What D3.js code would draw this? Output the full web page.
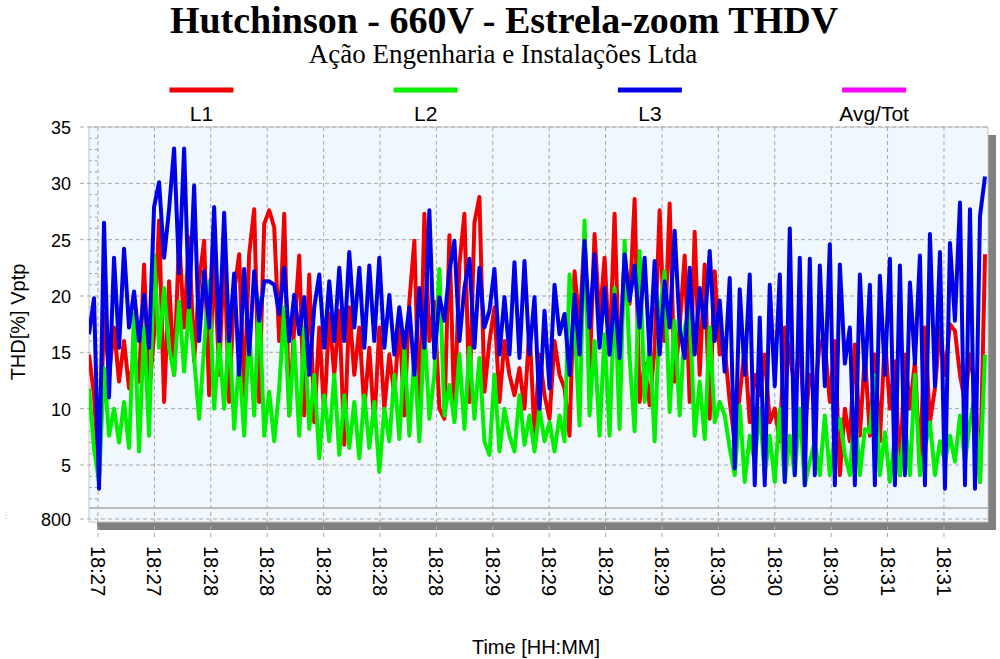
<!DOCTYPE html>
<html>
<head>
<meta charset="utf-8">
<script src="https://cdn.jsdelivr.net/npm/d3@7"></script>
<style>
body { margin: 0; background: #fff; }
svg { display: block; }
text { font-family: "Liberation Sans", Arial, sans-serif; fill: #000; }
.serif { font-family: "Liberation Serif", "Times New Roman", serif; }
</style>
</head>
<body>
<script>
var width = 1000;
var height = 659;

var seriesNames = ["L1", "L2", "L3", "Avg/Tot"];
var seriesColors = ["#f00000", "#00f000", "#0000e6", "#ff00ff"];

// THD values, one every ~5 px
var l1 = [14.8, 11.2, 3.8, 18.4, 13, 17.2, 12.4, 16, 11.8, 14.8, 12.4, 22.8, 11.2, 16.6, 26.7, 10.6, 21.3, 13, 25.2, 17.2, 25.2, 14.2, 21.3, 24.9, 11.2, 23.7, 13, 24, 10.6, 20.4, 23.7, 11.2, 23.7, 27.7, 10.6, 26.4,
  27.6, 26.1, 16, 27.3, 9.4, 17.2, 23.6, 9.4, 21.9, 8.8, 17.2, 9.4, 18.4, 13, 18.7, 6.8, 19, 13, 17.2, 10, 15.4, 8.5, 17.2, 10, 14.8, 11.2, 17.8, 9.4, 19.5, 24.9, 8.8, 27.3, 16, 19.5, 10, 9.1,
  25.4, 9.1, 22.8, 27.3, 10.6, 26.5, 28.8, 11.5, 16, 19, 10.6, 16, 13, 11.2, 13.6, 10, 17.2, 7.6, 14.8, 11.2, 9.1, 16, 13, 11.8, 7.6, 22.2, 17.2, 25.5, 13, 25.5, 17.8, 23.4, 14.8, 27.3, 12.4, 23.7,
  19.3, 28.6, 10.6, 14, 10.3, 15.4, 27.6, 16, 28.2, 12.4, 17.2, 23.6, 10.6, 25.7, 13, 22.8, 9.1, 22.2, 14.8, 15.4, 10.6, 7.1, 11.2, 15.4, 8.8, 13, 11.2, 14.8, 8.8, 10, 7.1, 17.2, 14.8, 11.8, 16, 8.2,
  13, 11.2, 16, 15.7, 10.6, 16, 4.1, 10, 7.1, 15.7, 7.6, 14.8, 7.6, 14.8, 7.1, 16.3, 10, 14.2, 4.1, 14.8, 10, 14.2, 4.7, 17.2, 8.8, 11.8, 17.2, 13, 17.5, 16.9, 13, 10.6, 14.8, 11.8, 3.5, 23.7];

var l2 = [11.8, 6.5, 3.5, 13.6, 7.6, 10, 7, 10.6, 6.5, 18.4, 6.2, 17.2, 7.6, 23.6, 15.4, 20.7, 15.4, 13, 19.5, 13.3, 19, 14.5, 9.1, 15.4, 21.3, 10, 16, 10, 17.2, 8.2, 14.5, 7.6, 17.2, 9.4, 19.8, 7.6,
  11.5, 7.1, 11.8, 19, 9.4, 16, 7.6, 17.2, 8.2, 13, 5.6, 11.2, 7.1, 13, 5.9, 11.2, 6.5, 10.6, 5.6, 11.2, 6.5, 10.6, 4.4, 10, 7.1, 13, 7.3, 15.4, 7.6, 14.8, 7.1, 17.2, 9.1, 13, 22.4, 9.4,
  12.1, 8.8, 14.8, 8.2, 15.4, 9.1, 14.5, 7.1, 5.9, 13, 6.2, 10, 7.6, 6.2, 11.2, 6.8, 9.4, 6.2, 10, 7.1, 8.8, 6.2, 9.4, 7.1, 21.9, 17.5, 8.5, 26.7, 9.4, 16, 7.6, 16.6, 7.6, 20.7, 8.2, 24.9,
  14.5, 8, 24, 10.6, 16, 7.1, 18.4, 22.2, 9.7, 17.8, 9.4, 17.2, 19, 7.6, 12.4, 7.3, 17.2, 8.8, 10.6, 9.4, 6.5, 4.1, 10.3, 3.5, 7.6, 5.3, 10, 4.1, 7.6, 3.5, 10, 3.5, 7.6, 4.1, 10, 3.2,
  5.3, 7.1, 4.1, 9.4, 4.1, 7.6, 9.1, 5.9, 4.1, 10, 4.1, 8.2, 7.9, 13, 4.1, 7.9, 3.5, 7.6, 4.1, 8.8, 4.1, 13, 4.1, 6.5, 8.8, 4.1, 7.1, 5.3, 7.6, 5.3, 9.4, 5.3, 8.8, 11.2, 3.5, 14.8];

var l3 = [16.6, 19.8, 2.9, 26.5, 11, 23.4, 15.4, 24.2, 17.2, 20.4, 16, 20.1, 15.4, 27.9, 30.1, 23.4, 27.7, 33.1, 22, 33.1, 19, 29.8, 16, 22.2, 17.2, 27.9, 16, 27.4, 16, 22, 13, 22.4, 14.8, 22.2, 17.8, 21.3,
  21.3, 21, 18.4, 22.5, 16, 20.1, 16.6, 19.9, 13, 19, 21.9, 15.4, 21.3, 16, 22.5, 16, 23.9, 17.2, 22.5, 15.4, 22.7, 16, 23.4, 15.4, 20.1, 14.8, 19, 15.4, 19, 13, 20.7, 15.4, 27.6, 14.5, 19.9, 17.8,
  22.2, 24.9, 16, 20.7, 23.3, 15.4, 22.5, 17.2, 18.7, 22.4, 14.8, 19.9, 14.8, 23, 14.5, 23.1, 14.8, 19.9, 10, 18.7, 11.8, 21, 16.6, 18.4, 13, 20.1, 14.8, 24.9, 17.2, 23.7, 15.4, 20.7, 14.8, 20.1, 14.5, 23.7,
  19.6, 22.7, 17.2, 23.4, 14.8, 23.1, 14.8, 21.3, 17.2, 25.8, 17.2, 14.5, 22.5, 14.8, 20.7, 17.2, 24, 16, 19.6, 13.3, 21.6, 4.7, 20.6, 13, 21.9, 3.2, 18.1, 3.2, 21, 12, 21.9, 3.5, 26, 4.1, 23.4, 3.2,
  23.3, 4.1, 22.7, 12, 24.6, 3.2, 22.8, 14, 17.2, 3.2, 21.9, 12.5, 21, 3.2, 21.8, 13, 23.3, 3.2, 22.7, 4.1, 21.2, 14, 23.6, 3.2, 25.5, 12, 23.9, 2.9, 24.7, 17.8, 28.3, 3.2, 27.7, 2.9, 27.1, 30.6];

var yTicks = [5, 10, 15, 20, 25, 30, 35];
var yBreakTick = 800;
// x ticks sit at sample positions
var xTickIdx = [1.8, 13.07, 24.33, 35.6, 46.87, 58.13, 69.4, 80.67, 91.93, 103.2, 114.47, 125.73, 137, 148.27, 159.53, 170.8];
var xTickLabels = ["18:27", "18:27", "18:28", "18:28", "18:28", "18:28", "18:28", "18:29", "18:29", "18:29", "18:29", "18:30", "18:30", "18:30", "18:31", "18:31"];

var plotLeft = 89, plotRight = 988, plotTop = 127, plotBottom = 522;

var svg = d3.select("body")
            .append("svg")
            .attr("width", width)
            .attr("height", height);

var x = d3.scaleLinear().domain([0, l1.length - 1]).range([89, 985]);
var y = d3.scaleLinear().domain([5, 35]).range([465, 127]);
var yBreak = d3.scaleLinear().domain([790, 810]).range([530, 508]);

// titles
svg.append("text").attr("class", "serif")
    .attr("x", 504).attr("y", 33)
    .attr("text-anchor", "middle")
    .style("font-size", "38px").style("font-weight", "bold")
    .text("Hutchinson - 660V - Estrela-zoom THDV");
svg.append("text").attr("class", "serif")
    .attr("x", 503).attr("y", 63)
    .attr("text-anchor", "middle")
    .style("font-size", "27px")
    .text("Ação Engenharia e Instalações Ltda");

// legend
var legend = svg.selectAll("g.legend")
                .data(seriesNames)
                .enter()
                .append("g")
                .attr("class", "legend")
                .attr("transform", function(d, i) { return "translate(" + (201.5 + i * 224.2) + ",0)"; });
legend.append("line")
    .attr("x1", -32).attr("x2", 32)
    .attr("y1", 90).attr("y2", 90)
    .style("stroke", function(d, i) { return seriesColors[i]; })
    .style("stroke-width", 5);
legend.append("text")
    .attr("y", 121)
    .attr("text-anchor", "middle")
    .style("font-size", "21px")
    .text(function(d) { return d; });

// frame + shadow
svg.append("rect")
    .attr("x", plotLeft + 8).attr("y", plotTop + 8)
    .attr("width", plotRight - plotLeft).attr("height", plotBottom - plotTop)
    .style("fill", "#808080");
svg.append("rect")
    .attr("x", plotLeft).attr("y", plotTop)
    .attr("width", plotRight - plotLeft).attr("height", plotBottom - plotTop)
    .style("fill", "#f0f8fd")
    .style("stroke", "#c4c4c4");

// grid
svg.selectAll(".hgrid")
    .data(yTicks)
    .enter()
    .append("line")
    .attr("class", "hgrid")
    .attr("x1", 80).attr("x2", plotRight)
    .attr("y1", function(d) { return y(d); })
    .attr("y2", function(d) { return y(d); })
    .style("stroke", "#a8a8a8").style("stroke-dasharray", "4,3");
svg.append("line")
    .attr("x1", 80).attr("x2", plotRight)
    .attr("y1", yBreak(yBreakTick)).attr("y2", yBreak(yBreakTick))
    .style("stroke", "#a8a8a8").style("stroke-dasharray", "4,3");
svg.append("line")
    .attr("x1", plotLeft).attr("x2", plotRight)
    .attr("y1", yBreak(810)).attr("y2", yBreak(810))
    .style("stroke", "#bcbcbc").style("stroke-width", 2);

var minor = d3.range(2, 35).filter(function(v) { return v % 5 != 0; });
svg.selectAll(".minor")
    .data(minor)
    .enter()
    .append("line")
    .attr("class", "minor")
    .attr("x1", plotLeft).attr("x2", plotLeft + 9)
    .attr("y1", function(d) { return y(d); })
    .attr("y2", function(d) { return y(d); })
    .style("stroke", "#a8a8a8").style("stroke-dasharray", "3,3");

svg.selectAll(".vgrid")
    .data(xTickIdx)
    .enter()
    .append("line")
    .attr("class", "vgrid")
    .attr("x1", function(d) { return x(d); })
    .attr("x2", function(d) { return x(d); })
    .attr("y1", plotTop).attr("y2", 538)
    .style("stroke", "#a8a8a8").style("stroke-dasharray", "4,3");

// series
svg.append("clipPath").attr("id", "clip")
    .append("rect")
    .attr("x", plotLeft).attr("y", plotTop)
    .attr("width", plotRight - plotLeft).attr("height", plotBottom - plotTop);

var line = d3.line()
    .x(function(d, i) { return x(i); })
    .y(function(d) { return y(d); });

[l1, l2, l3].forEach(function(s, k) {
    svg.append("path")
        .datum(s)
        .attr("d", line)
        .attr("clip-path", "url(#clip)")
        .style("fill", "none")
        .style("stroke", seriesColors[k])
        .style("stroke-width", 4)
        .style("stroke-linejoin", "round");
});

// axis labels
svg.selectAll(".ylab")
    .data(yTicks)
    .enter()
    .append("text")
    .attr("class", "ylab")
    .attr("x", 71)
    .attr("y", function(d) { return y(d) + 7; })
    .attr("text-anchor", "end")
    .style("font-size", "18px")
    .text(function(d) { return d; });
svg.append("text")
    .attr("x", 71).attr("y", yBreak(yBreakTick) + 7)
    .attr("text-anchor", "end")
    .style("font-size", "18px")
    .text(yBreakTick);

svg.selectAll(".xlab")
    .data(xTickIdx)
    .enter()
    .append("text")
    .attr("class", "xlab")
    .attr("transform", function(d) { return "translate(" + (x(d) - 7) + ",546) rotate(90)"; })
    .style("font-size", "20px")
    .text(function(d, i) { return xTickLabels[i]; });

svg.append("text")
    .attr("transform", "translate(25,322) rotate(-90)")
    .attr("text-anchor", "middle")
    .style("font-size", "20px")
    .text("THD[%] Vptp");
svg.append("text")
    .attr("x", 536).attr("y", 654)
    .attr("text-anchor", "middle")
    .style("font-size", "20px")
    .text("Time [HH:MM]");

svg.append("line")
    .attr("x1", 6).attr("x2", 6).attr("y1", 512).attr("y2", 521)
    .style("stroke", "#b0b0b0").style("stroke-dasharray", "1,2");
</script>
</body>
</html>
